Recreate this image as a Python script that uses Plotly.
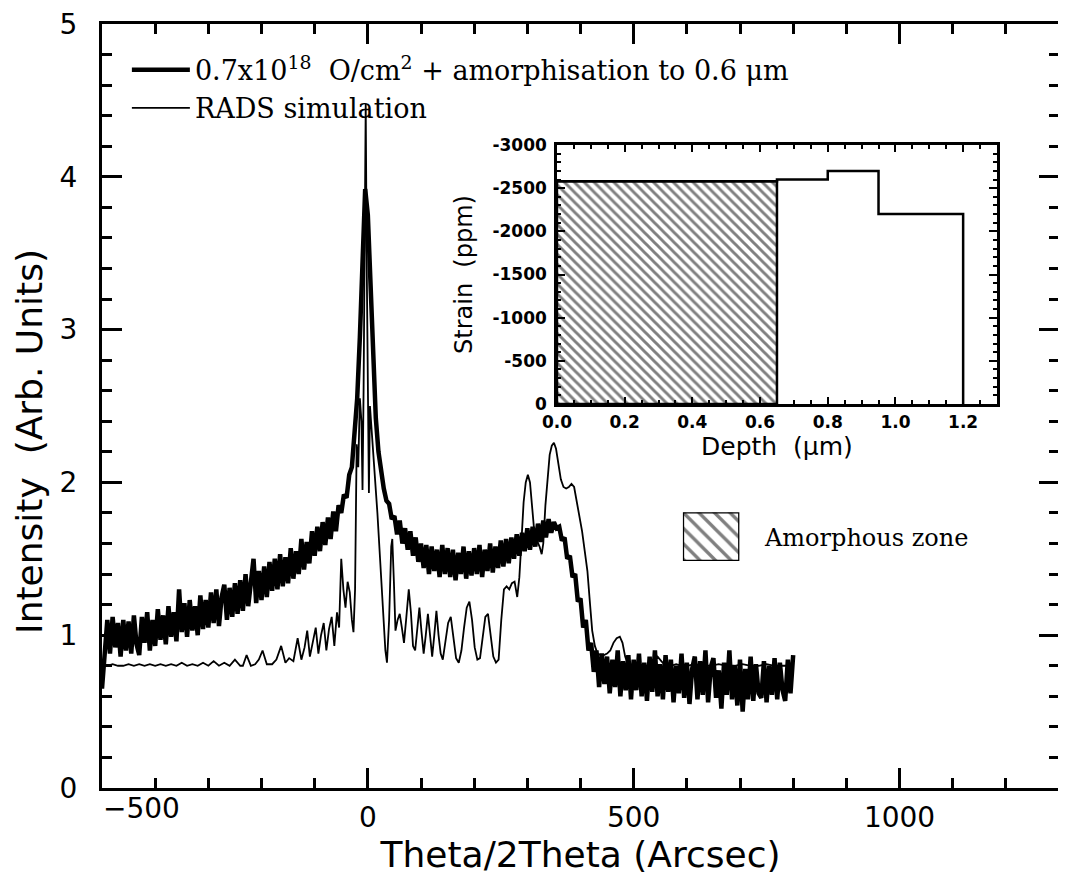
import plotly.graph_objects as go

# ---------------- main plot data ----------------
# measured rocking curve (thick line), scan grid -500..800 arcsec, 5 arcsec step
meas_x = list(range(-500, 805, 5))
meas_y = [
    0.65, 0.90, 1.10, 0.88, 1.12, 0.92, 1.08, 0.86, 1.10, 0.90,
    1.09, 0.88, 1.13, 0.94, 0.87, 1.12, 0.95, 1.15, 0.90, 1.10,
    0.93, 1.17, 0.97, 1.13, 0.94, 1.19, 0.99, 1.15, 0.96, 1.30,
    1.02, 1.21, 0.99, 1.23, 1.03, 1.19, 1.00, 1.26, 1.04, 1.23,
    1.05, 1.28, 1.08, 1.30, 1.06, 1.25, 1.33, 1.10, 1.31, 1.12,
    1.34, 1.14, 1.36, 1.16, 1.40, 1.19, 1.37, 1.50, 1.21, 1.42,
    1.23, 1.45, 1.25, 1.48, 1.29, 1.50, 1.30, 1.53, 1.32, 1.51,
    1.34, 1.57, 1.37, 1.55, 1.40, 1.63, 1.43, 1.61, 1.47, 1.68,
    1.52, 1.71, 1.55, 1.74, 1.59, 1.77, 1.63, 1.81, 1.68, 1.85,
    1.80, 1.92, 1.90, 2.05, 2.10, 2.30, 2.55, 2.95, 3.45, 3.92,
    3.75, 3.25, 2.80, 2.42, 2.20, 2.05, 1.96, 1.88, 1.86, 1.76,
    1.78, 1.66, 1.75, 1.60, 1.70, 1.56, 1.68, 1.52, 1.64, 1.48,
    1.60, 1.44, 1.59, 1.40, 1.58, 1.42, 1.56, 1.38, 1.59, 1.40,
    1.57, 1.38, 1.56, 1.36, 1.54, 1.40, 1.58, 1.37, 1.55, 1.39,
    1.57, 1.40, 1.59, 1.38, 1.56, 1.42, 1.60, 1.41, 1.58, 1.44,
    1.62, 1.45, 1.63, 1.47, 1.64, 1.50, 1.66, 1.52, 1.67, 1.55,
    1.70, 1.56, 1.71, 1.58, 1.73, 1.61, 1.75, 1.64, 1.76, 1.67,
    1.74, 1.70, 1.71, 1.62, 1.64, 1.50, 1.52, 1.38, 1.40, 1.22,
    1.24, 1.05, 1.10, 0.90, 0.95, 0.76, 0.90, 0.66, 0.88, 0.68,
    0.86, 0.62, 0.84, 0.66, 0.90, 0.60, 0.83, 0.64, 0.87, 0.58,
    0.84, 0.64, 0.88, 0.60, 0.82, 0.57, 0.86, 0.63, 0.90, 0.60,
    0.81, 0.58, 0.87, 0.63, 0.84, 0.56, 0.80, 0.62, 0.88, 0.59,
    0.82, 0.55, 0.78, 0.86, 0.58, 0.83, 0.61, 0.90, 0.56, 0.79,
    0.85, 0.59, 0.77, 0.52, 0.82, 0.61, 0.90, 0.58, 0.80, 0.54,
    0.84, 0.50, 0.78, 0.58, 0.86, 0.57, 0.81, 0.62, 0.59, 0.83,
    0.56, 0.80, 0.61, 0.85, 0.58, 0.82, 0.64, 0.57, 0.84, 0.62,
    0.87,
]

# RADS simulation (thin line)
sim_x = [
    -500, -490, -480, -470, -460, -450, -440, -430, -420, -410,
    -400, -390, -380, -370, -360, -350, -340, -330, -320, -310,
    -300, -290, -280, -270, -260, -250, -240, -235, -228, -220,
    -212, -205, -198, -190, -180, -172, -163, -155, -148, -140,
    -132, -125, -119, -114, -109, -103, -98, -93, -88, -83,
    -78, -73, -68, -63, -58, -54, -50, -46, -42, -38,
    -34, -30, -27, -24, -21, -18, -15, -12, -10, -8,
    -6, -4, -2, 0, 2, 4, 6, 9, 13, 18,
    23, 28, 33, 36, 40, 44, 46, 49, 52, 56,
    60, 64, 68, 72, 77, 81, 85, 89, 93, 97,
    101, 105, 109, 113, 117, 121, 125, 129, 133, 137,
    141, 146, 151, 156, 161, 166, 171, 176, 181, 186,
    191, 196, 201, 206, 211, 216, 221, 226, 231, 236,
    241, 246, 251, 256, 261, 266, 271, 276, 281, 285,
    289, 293, 297, 301, 305, 309, 313, 318, 323, 327,
    330, 334, 338, 342, 346, 350, 354, 358, 363, 368,
    373, 378, 383, 388, 393, 398, 403, 408, 413, 418,
    422, 427, 432, 438, 444, 450, 456, 462, 468, 474,
    479, 484, 488, 495, 505, 515, 525, 535, 545, 552,
    560, 570, 580, 590, 600, 615, 630, 645, 660, 675,
    690, 705, 720, 735, 750, 765, 780, 800,
]
sim_y = [
    0.80, 0.80, 0.81, 0.80, 0.80, 0.81, 0.80, 0.81, 0.80, 0.81,
    0.80, 0.81, 0.80, 0.81, 0.80, 0.82, 0.80, 0.81, 0.80, 0.82,
    0.80, 0.83, 0.80, 0.82, 0.80, 0.84, 0.80, 0.80, 0.87, 0.80,
    0.81, 0.84, 0.90, 0.81, 0.81, 0.84, 0.93, 0.82, 0.85, 0.83,
    0.98, 0.84, 0.92, 1.03, 0.86, 0.96, 1.05, 0.88, 1.00, 1.08,
    0.90, 1.04, 1.12, 0.93, 1.15, 1.05, 1.50, 1.30, 1.18, 1.35,
    1.28, 1.10, 1.02, 1.30, 2.25, 2.10, 2.55, 2.40, 1.95, 2.60,
    3.30, 4.48, 3.40, 2.50, 1.93, 2.50, 2.40, 2.30, 2.05, 1.80,
    1.50, 1.20, 0.90, 0.82, 1.10, 1.58, 1.63, 1.35, 1.03, 1.10,
    1.14, 1.05, 0.95, 1.10, 1.30, 1.15, 0.93, 0.90, 1.05, 1.18,
    1.02, 0.88, 1.00, 1.14, 1.00, 0.86, 1.00, 1.16, 1.00, 0.88,
    0.84, 0.95, 1.08, 1.12, 0.98, 0.85, 0.82, 0.90, 1.05, 1.18,
    1.22, 1.10, 0.92, 0.84, 0.85, 0.98, 1.12, 1.14, 0.98, 0.86,
    0.82, 0.84, 1.10, 1.30, 1.32, 1.30, 1.34, 1.35, 1.25, 1.38,
    1.62, 1.87, 2.00, 2.05, 2.00, 1.85, 1.68, 1.62, 1.58, 1.53,
    1.60, 1.85, 2.05, 2.18, 2.24, 2.26, 2.22, 2.12, 2.02, 1.97,
    1.96, 1.97, 1.99, 1.97, 1.88, 1.78, 1.68, 1.55, 1.42, 1.20,
    1.03, 0.93, 0.88, 0.87, 0.87, 0.88, 0.90, 0.95, 0.98, 0.99,
    0.95, 0.86, 0.82, 0.80, 0.81, 0.80, 0.80, 0.82, 0.86, 0.83,
    0.80, 0.80, 0.81, 0.80, 0.80, 0.81, 0.80, 0.80, 0.81, 0.80,
    0.80, 0.81, 0.80, 0.80, 0.81, 0.80, 0.80, 0.80,
]
assert len(sim_x) == len(sim_y)
assert len(meas_x) == len(meas_y)

# ---------------- inset data ----------------
depth_bounds = [0.0, 0.65, 0.80, 0.95, 1.20]   # um, layer boundaries
strain_ppm = [-2580, -2600, -2700, -2200]       # ppm per layer
amorphous_depth = 0.65                           # um

meas_name = "0.7x10<sup>18</sup>  O/cm<sup>2</sup> + amorphisation to 0.6 μm"
sim_name = "RADS simulation"

SANS = "DejaVu Sans"
SERIF = "DejaVu Serif"

fig = go.Figure()

fig.add_trace(go.Scatter(x=meas_x, y=meas_y, mode="lines", name=meas_name,
                         line=dict(color="black", width=4.5), xaxis="x", yaxis="y"))
fig.add_trace(go.Scatter(x=sim_x, y=sim_y, mode="lines", name=sim_name,
                         line=dict(color="black", width=1.8), xaxis="x", yaxis="y"))

# inset: hatched amorphous zone + strain profile
fig.add_trace(go.Bar(x=[amorphous_depth / 2], y=[strain_ppm[0]], width=[amorphous_depth], base=0,
                     marker=dict(color="white",
                                 pattern=dict(shape="\\", size=7, solidity=0.42,
                                              fgcolor="black", bgcolor="white", fillmode="overlay"),
                                 line=dict(color="black", width=2.5)),
                     showlegend=False, xaxis="x2", yaxis="y2"))
step_x = depth_bounds + [depth_bounds[-1]]
step_y = strain_ppm + [strain_ppm[-1], 0]
fig.add_trace(go.Scatter(x=step_x, y=step_y, mode="lines", line=dict(color="black", width=2.5, shape="hv"),
                         showlegend=False, xaxis="x2", yaxis="y2"))

# key box for "Amorphous zone"
fig.add_trace(go.Bar(x=[0], y=[1], width=[1], base=0,
                     marker=dict(color="white",
                                 pattern=dict(shape="\\", size=11, solidity=0.3,
                                              fgcolor="black", bgcolor="white", fillmode="overlay"),
                                 line=dict(color="black", width=2.5)),
                     showlegend=False, xaxis="x3", yaxis="y3"))

tickfont_main = dict(family=SANS, size=28, color="black")
inset_tickfont = dict(family=SANS, size=17, color="black", weight="bold")

# page has an 8px body margin: figure is sized to fit inside the window
fig.update_layout(
    width=1058, height=868,
    margin=dict(l=94, r=7, t=16, b=88),
    paper_bgcolor="white", plot_bgcolor="white",
    showlegend=True,
    barmode="overlay",
    legend=dict(x=0.026, y=0.9715, xanchor="left", yanchor="top",
                bgcolor="rgba(0,0,0,0)", borderwidth=0,
                font=dict(family=SERIF, size=27, color="black"),
                itemwidth=58, tracegroupgap=0),
    xaxis=dict(domain=[0, 1], range=[-500, 1300], showgrid=False, zeroline=False, automargin=False,
               showline=True, linecolor="black", linewidth=3, mirror="allticks",
               tickmode="linear", tick0=-500, dtick=500, labelalias={"\u2212500": " "},
               ticks="inside", ticklen=20, tickwidth=2.5, tickcolor="black",
               minor=dict(tickmode="linear", tick0=-500, dtick=100, ticks="inside",
                          ticklen=10, tickwidth=2.5, tickcolor="black", showgrid=False),
               tickfont=tickfont_main, ticklabelstandoff=2, ticklabeloverflow="allow",
               title=dict(text="Theta/2Theta (Arcsec)", font=dict(family=SANS, size=36, color="black"),
                          standoff=0)),
    yaxis=dict(domain=[0, 1], range=[0, 5], showgrid=False, zeroline=False, automargin=False,
               showline=True, linecolor="black", linewidth=3, mirror="allticks",
               tickmode="linear", tick0=0, dtick=1,
               ticks="inside", ticklen=20, tickwidth=2.5, tickcolor="black",
               minor=dict(tickmode="linear", tick0=0, dtick=0.2, ticks="inside",
                          ticklen=10, tickwidth=2.5, tickcolor="black", showgrid=False),
               tickfont=tickfont_main, ticklabelstandoff=16, ticklabeloverflow="allow"),
    xaxis2=dict(domain=[0.4754, 0.9352], anchor="y2", range=[0, 1.3], showgrid=False, zeroline=False,
                automargin=False,
                showline=True, linecolor="black", linewidth=2.5, mirror="allticks",
                tickmode="linear", tick0=0, dtick=0.2, tickformat=".1f",
                ticks="inside", ticklen=7, tickwidth=2, tickcolor="black",
                minor=dict(tickmode="linear", tick0=0, dtick=0.05, ticks="inside",
                           ticklen=4, tickwidth=1.5, tickcolor="black", showgrid=False),
                tickfont=inset_tickfont, ticklabelstandoff=1,
                title=dict(text="Depth\u00a0 (μm)", font=dict(family=SANS, size=25, color="black"),
                           standoff=1)),
    yaxis2=dict(domain=[0.5026, 0.8416], anchor="x2", range=[0, -3000], showgrid=False, zeroline=False,
                automargin=False,
                showline=True, linecolor="black", linewidth=2.5, mirror="allticks",
                tickmode="linear", tick0=0, dtick=500,
                labelalias={"\u22123000": "-3000", "\u22122500": "-2500", "\u22122000": "-2000",
                            "\u22121500": "-1500", "\u22121000": "-1000", "\u2212500": "-500"},
                ticks="inside", ticklen=8, tickwidth=2, tickcolor="black",
                minor=dict(tickmode="linear", tick0=0, dtick=100, ticks="inside",
                           ticklen=4, tickwidth=1.5, tickcolor="black", showgrid=False),
                tickfont=inset_tickfont, ticklabelstandoff=4,
                title=dict(text="Strain\u00a0 (ppm)", font=dict(family=SANS, size=24, color="black"),
                           standoff=14)),
    xaxis3=dict(domain=[0.607, 0.666], anchor="y3", range=[-0.5, 0.5], visible=False, fixedrange=True),
    yaxis3=dict(domain=[0.297, 0.361], anchor="x3", range=[0, 1], visible=False, fixedrange=True),
    annotations=[
        dict(text="Intensity\u00a0 (Arb. Units)", textangle=-90, x=-0.0752, y=0.453,
             xref="paper", yref="paper", xanchor="center", yanchor="middle", showarrow=False,
             font=dict(family=SANS, size=36, color="black")),
        dict(text="Amorphous zone", x=0.690, y=0.327, xref="paper", yref="paper",
             xanchor="left", yanchor="middle", showarrow=False,
             font=dict(family=SERIF, size=24, color="black")),
        dict(text="\u2212500", x=-425, y=0, xref="x", yref="paper", xanchor="center", yanchor="top",
             yshift=-2, showarrow=False, font=tickfont_main),
    ],
)

fig.write_html("out.html")
